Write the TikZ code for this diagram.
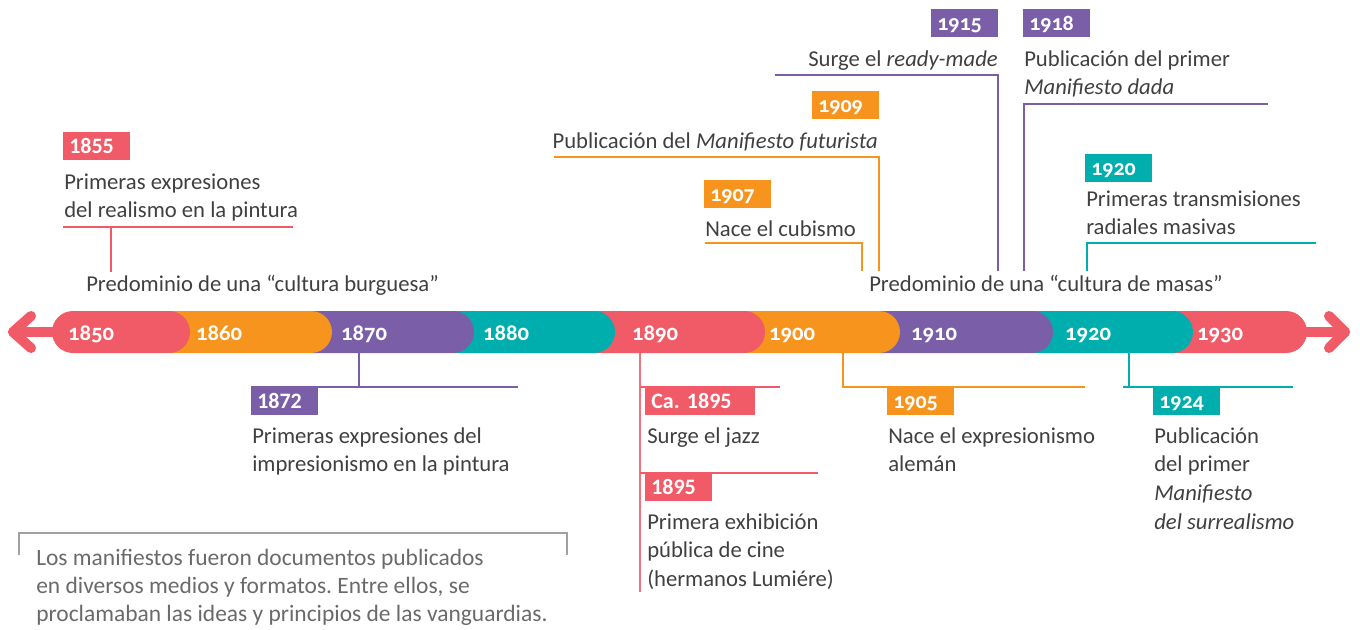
\documentclass[tikz,border=0pt]{standalone}
\usepackage{fontspec}
\setmainfont{Carlito}
\newfontfamily\osfont[Numbers=OldStyle]{Carlito}
\definecolor{cred}{HTML}{F15B67}
\definecolor{corange}{HTML}{F7941E}
\definecolor{cpurple}{HTML}{7A5FA8}
\definecolor{cteal}{HTML}{00AEAD}
\definecolor{textgray}{HTML}{404040}
\definecolor{notegray}{HTML}{6A6A6A}
\definecolor{linegray}{HTML}{A0A0A0}
\frenchspacing
\newcommand\bodyfont{\frenchspacing\fontsize{17}{21.5}\selectfont}
\newcommand\notefont{\frenchspacing\fontsize{17.6}{21.3}\selectfont}
\newcommand\ml[1]{\begin{tabular}[t]{@{}l@{}}#1\end{tabular}}
\tikzset{
  txt/.style={inner sep=0pt, text=textgray, font=\bodyfont, anchor=base west},
  notetxt/.style={inner sep=0pt, text=notegray, font=\notefont, anchor=base west},
  yb/.style={fill=#1, text=white, font=\bfseries\fontsize{16.5}{18}\selectfont, anchor=north west,
    inner xsep=4.5pt, inner ysep=0pt, text width=41.25pt, align=left, text height=15.75pt, text depth=5.25pt},
  ybos/.style={yb=#1, font=\osfont\bfseries\fontsize{16.5}{18}\selectfont},
  baryear/.style={inner sep=0pt, text=white, font=\osfont\bfseries\fontsize{17}{18}\selectfont, anchor=base},
  conn/.style={line width=1.6pt, line join=miter},
  arrowln/.style={line width=7.5pt, line cap=round, line join=round},
  segfill/.style={fill=#1, rounded corners=15.75pt},
}
\begin{document}
\begin{tikzpicture}[x=0.75pt,y=-0.75pt]
\useasboundingbox (0,0) rectangle (1360,629);

% ---- arrows at both ends
\coordinate (tipL) at (13,332);
\coordinate (armLt) at (31,316);
\coordinate (armLb) at (31,348);
\coordinate (barL) at (70,332);
\draw[arrowln, cred] (armLt) -- (tipL) -- (armLb);
\draw[arrowln, cred] (tipL) -- (barL);
\coordinate (tipR) at (1345,332);
\coordinate (armRt) at (1329,316);
\coordinate (armRb) at (1329,348);
\coordinate (barR) at (1290,332);
\draw[arrowln, cred] (armRt) -- (tipR) -- (armRb);
\draw[arrowln, cred] (tipR) -- (barR);

% ---- bar segments (drawn right to left)
\fill[segfill=cred]    (1151,311) rectangle (1307,353);
\fill[segfill=cteal]   (1011,311) rectangle (1193,353);
\fill[segfill=cpurple] (858,311)  rectangle (1053,353);
\fill[segfill=corange] (723,311)  rectangle (900,353);
\fill[segfill=cred]    (573,311)  rectangle (765,353);
\fill[segfill=cteal]   (432,311)  rectangle (615,353);
\fill[segfill=cpurple] (290,311)  rectangle (474,353);
\fill[segfill=corange] (148,311)  rectangle (332,353);
\fill[segfill=cred]    (52,311)   rectangle (190,353);

\node[baryear] (y1850) at (91,340) {1850};
\node[baryear] (y1860) at (219,340) {1860};
\node[baryear] (y1870) at (364,340) {1870};
\node[baryear] (y1880) at (506,340) {1880};
\node[baryear] (y1890) at (655,340) {1890};
\node[baryear] (y1900) at (792,340) {1900};
\node[baryear] (y1910) at (934,340) {1910};
\node[baryear] (y1920) at (1088,340) {1920};
\node[baryear] (y1930) at (1220,340) {1930};

% ---- period labels
\node[txt] (pburg) at (86,291) {Predominio de una “cultura burguesa”};
\node[txt] (pmasas) at (869,291) {Predominio de una “cultura de masas”};

% ---- 1855
\node[yb=cred] (b1855) at (63,132) {1855};
\node[txt] (t1855) at (64,189) {\ml{Primeras expresiones\\del realismo en la pintura}};
\coordinate (u1855a) at (63,227);
\coordinate (u1855b) at (293,227);
\coordinate (u1855j) at (111,227);
\coordinate (u1855e) at (111,272);
\draw[conn, cred] (u1855a) -- (u1855b);
\draw[conn, cred] (u1855j) -- (u1855e);

% ---- 1907
\node[ybos=corange] (b1907) at (704,180) {1907};
\node[txt] (t1907) at (705,236) {Nace el cubismo};
\coordinate (u1907a) at (705,243);
\coordinate (u1907b) at (862,243);
\coordinate (u1907e) at (862,271);
\draw[conn, corange] (u1907a) -- (u1907b) -- (u1907e);

% ---- 1909
\node[ybos=corange] (b1909) at (812,91) {1909};
\node[txt, anchor=base east] (t1909) at (878,148) {Publicación del \textit{Manifiesto futurista}};
\coordinate (u1909a) at (554,157);
\coordinate (u1909b) at (879,157);
\coordinate (u1909e) at (879,271);
\draw[conn, corange] (u1909a) -- (u1909b) -- (u1909e);

% ---- 1915
\node[ybos=cpurple] (b1915) at (931,9) {1915};
\node[txt, anchor=base east] (t1915) at (998,66) {Surge el \textit{ready-made}};
\coordinate (u1915a) at (775,75);
\coordinate (u1915b) at (998,75);
\coordinate (u1915e) at (998,271);
\draw[conn, cpurple] (u1915a) -- (u1915b) -- (u1915e);

% ---- 1918
\node[ybos=cpurple] (b1918) at (1023,9) {1918};
\node[txt] (t1918) at (1024,66) {\ml{Publicación del primer\\\textit{Manifiesto dada}}};
\coordinate (u1918e) at (1024,271);
\coordinate (u1918a) at (1024,104);
\coordinate (u1918b) at (1268,104);
\draw[conn, cpurple] (u1918e) -- (u1918a) -- (u1918b);

% ---- 1920
\node[ybos=cteal] (b1920) at (1085,154) {1920};
\node[txt] (t1920) at (1086,206) {\ml{Primeras transmisiones\\radiales masivas}};
\coordinate (u1920e) at (1087,271);
\coordinate (u1920a) at (1087,243);
\coordinate (u1920b) at (1316,243);
\draw[conn, cteal] (u1920e) -- (u1920a) -- (u1920b);

% ---- 1872
\coordinate (d1872s) at (359,353);
\coordinate (d1872j) at (359,387);
\coordinate (d1872a) at (251,387);
\coordinate (d1872b) at (518,387);
\draw[conn, cpurple] (d1872s) -- (d1872j);
\draw[conn, cpurple] (d1872a) -- (d1872b);
\node[yb=cpurple] (b1872) at (251,387) {1872};
\node[txt] (t1872) at (252,443) {\ml{Primeras expresiones del\\impresionismo en la pintura}};

% ---- 1890s (red)
\coordinate (d1890s) at (640,353);
\coordinate (d1890e) at (640,592);
\coordinate (d1890j1) at (640,387);
\coordinate (d1890b1) at (780,387);
\coordinate (d1890j2) at (640,473);
\coordinate (d1890b2) at (818,473);
\draw[conn, cred!85] (d1890s) -- (d1890e);
\draw[conn, cred] (d1890j1) -- (d1890b1);
\draw[conn, cred] (d1890j2) -- (d1890b2);
\node[yb=cred, text width=73.5pt] (bca1895) at (645,387) {Ca.\ 1895};
\node[txt] (tca1895) at (647,443) {Surge el jazz};
\node[yb=cred] (b1895) at (645,473) {1895};
\node[txt] (t1895) at (647,529) {\ml{Primera exhibición\\pública de cine\\(hermanos Lumiére)}};

% ---- 1905
\coordinate (d1905s) at (843,353);
\coordinate (d1905j) at (843,387);
\coordinate (d1905b) at (1085,387);
\draw[conn, corange] (d1905s) -- (d1905j) -- (d1905b);
\node[ybos=corange] (b1905) at (887,387) {1905};
\node[txt] (t1905) at (888,443) {\ml{Nace el expresionismo\\alemán}};

% ---- 1924
\coordinate (d1924s) at (1129,353);
\coordinate (d1924j) at (1129,387);
\coordinate (d1924a) at (1123,387);
\coordinate (d1924b) at (1293,387);
\draw[conn, cteal] (d1924s) -- (d1924j);
\draw[conn, cteal] (d1924a) -- (d1924b);
\node[ybos=cteal] (b1924) at (1153,387) {1924};
\node[txt] (t1924) at (1154,443) {\ml{Publicación\\del primer\\\textit{Manifiesto}\\\textit{del surrealismo}}};

% ---- note
\coordinate (n1) at (19,555);
\coordinate (n2) at (19,533);
\coordinate (n3) at (567,533);
\coordinate (n4) at (567,555);
\draw[line width=1.2pt, linegray] (n1) -- (n2) -- (n3) -- (n4);
\node[notetxt] (note) at (36,565) {\ml{Los manifiestos fueron documentos publicados\\en diversos medios y formatos. Entre ellos, se\\proclamaban las ideas y principios de las vanguardias.}};
\end{tikzpicture}
\end{document}
